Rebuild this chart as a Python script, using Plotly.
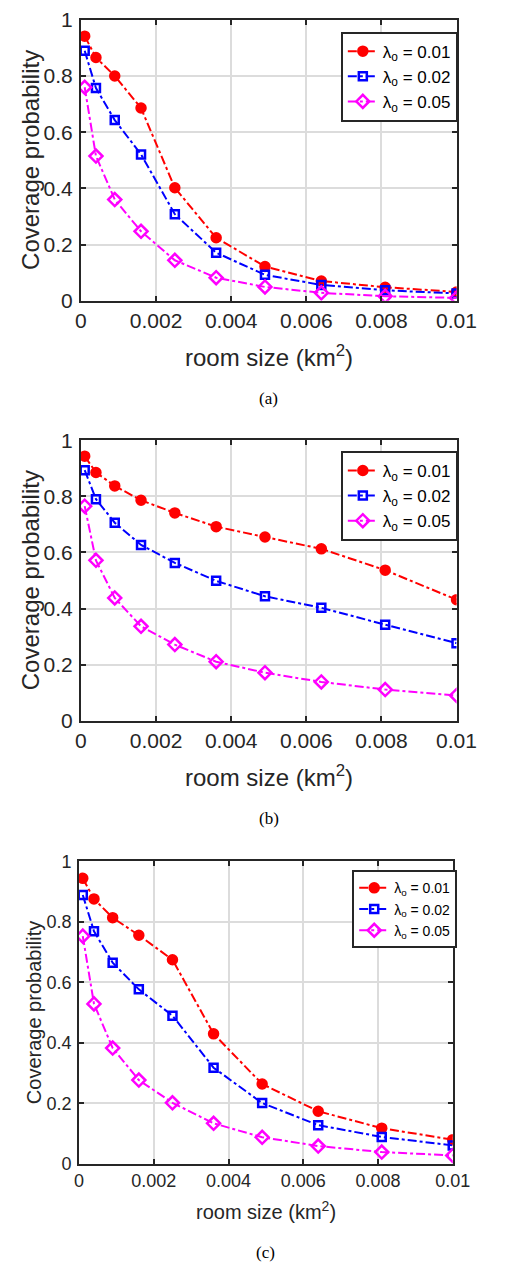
import plotly.graph_objects as go

x_vals = [0.0001, 0.0004, 0.0009, 0.0016, 0.0025, 0.0036, 0.0049, 0.0064, 0.0081, 0.01]
series_names = ["λ<sub>o</sub> = 0.01", "λ<sub>o</sub> = 0.02", "λ<sub>o</sub> = 0.05"]

a_red = [0.942, 0.866, 0.800, 0.686, 0.402, 0.224, 0.122, 0.070, 0.048, 0.031]
a_blue = [0.890, 0.757, 0.643, 0.521, 0.308, 0.171, 0.092, 0.056, 0.037, 0.026]
a_mag = [0.760, 0.515, 0.360, 0.247, 0.144, 0.082, 0.049, 0.028, 0.016, 0.010]

b_red = [0.943, 0.885, 0.837, 0.786, 0.741, 0.692, 0.655, 0.613, 0.537, 0.432]
b_blue = [0.893, 0.790, 0.706, 0.627, 0.563, 0.499, 0.444, 0.403, 0.343, 0.277]
b_mag = [0.765, 0.572, 0.438, 0.337, 0.272, 0.211, 0.172, 0.139, 0.112, 0.091]

c_red = [0.944, 0.876, 0.814, 0.756, 0.675, 0.430, 0.264, 0.174, 0.118, 0.080]
c_blue = [0.889, 0.769, 0.665, 0.577, 0.490, 0.318, 0.201, 0.128, 0.089, 0.061]
c_mag = [0.753, 0.529, 0.383, 0.277, 0.202, 0.134, 0.088, 0.059, 0.039, 0.028]

x_ticks = [0, 0.002, 0.004, 0.006, 0.008, 0.01]
x_ticktext = ["0", "0.002", "0.004", "0.006", "0.008", "0.01"]
y_ticks = [0, 0.2, 0.4, 0.6, 0.8, 1]
y_ticktext = ["0", "0.2", "0.4", "0.6", "0.8", "1"]
captions = ["(a)", "(b)", "(c)"]
x_title = "room size (km<sup>2</sup>)"
y_title = "Coverage probability"

W, H = 505, 1277
colors = ["#FF0000", "#0000FF", "#FF00FF"]
symbols = ["circle", "square-open", "diamond-open"]
msizes = [9, 8, 10]

panels = [
    dict(data=[a_red, a_blue, a_mag], x=(79, 475), y=(8, 294), tf=21, tt=24, lf=17,
         leg=(353, 20), ytx=26, xty=350, cap=394),
    dict(data=[b_red, b_blue, b_mag], x=(79, 475), y=(436, 722), tf=21, tt=24, lf=17,
         leg=(353, 447), ytx=26, xty=778, cap=821),
    dict(data=[c_red, c_blue, c_mag], x=(77, 471), y=(865, 1173), tf=18, tt=20, lf=14,
         leg=(365, 874), ytx=29, xty=1220, cap=1263),
]

fig = go.Figure()
FONT = "Liberation Sans, Arial, sans-serif"
axis_color = "#262626"
annotations = []
layout_axes = {}

for i, p in enumerate(panels):
    n = "" if i == 0 else str(i + 1)
    legname = "legend" + n
    for k in range(3):
        fig.add_trace(go.Scatter(
            x=x_vals, y=p["data"][k], mode="lines+markers", name=series_names[k],
            line=dict(color=colors[k], width=2, dash="dashdot"),
            marker=dict(symbol=symbols[k], size=msizes[k], color=colors[k],
                        line=dict(color=colors[k], width=2.5)),
            xaxis="x" + n, yaxis="y" + n, legend=legname,
        ))
    xd = [p["x"][0] / W, p["x"][1] / W]
    yd = [1 - p["y"][1] / H, 1 - p["y"][0] / H]
    common = dict(showline=True, linewidth=2, linecolor=axis_color, mirror="allticks",
                  ticks="inside", ticklen=5, tickwidth=1.5, tickcolor=axis_color,
                  showgrid=True, gridcolor="#dcdcdc", gridwidth=1.5, zeroline=False,
                  tickfont=dict(family=FONT, size=p["tf"], color=axis_color))
    layout_axes["xaxis" + n] = dict(domain=xd, range=[0, 0.01], tickvals=x_ticks,
                                     ticktext=x_ticktext, anchor="y" + n, **common)
    layout_axes["yaxis" + n] = dict(domain=yd, range=[0, 1], tickvals=y_ticks,
                                     ticktext=y_ticktext, anchor="x" + n,
                                     ticklabelstandoff=2, **common)
    layout_axes[legname] = dict(
        x=p["leg"][0] / W, y=1 - p["leg"][1] / H, xanchor="left", yanchor="top",
        bgcolor="white", bordercolor="#262626", borderwidth=2,
        font=dict(family=FONT, size=p["lf"], color="#000000"),
    )
    cx = (p["x"][0] + p["x"][1]) / 2 / W
    annotations.append(dict(text=x_title, x=cx, y=1 - p["xty"] / H, xref="paper", yref="paper",
                            showarrow=False, xanchor="center", yanchor="middle",
                            font=dict(family=FONT, size=p["tt"], color=axis_color)))
    annotations.append(dict(text=y_title, x=p["ytx"] / W, y=1 - (p["y"][0] + p["y"][1]) / 2 / H,
                            xref="paper", yref="paper", showarrow=False, textangle=-90,
                            xanchor="center", yanchor="middle",
                            font=dict(family=FONT, size=p["tt"], color=axis_color)))
    annotations.append(dict(text=captions[i], x=cx, y=1 - p["cap"] / H, xref="paper", yref="paper",
                            showarrow=False, xanchor="center", yanchor="middle",
                            font=dict(family="Liberation Serif, Times New Roman, serif", size=17,
                                      color="#000000")))

fig.update_layout(
    width=W, height=H, margin=dict(l=0, r=0, t=0, b=0),
    paper_bgcolor="white", plot_bgcolor="white",
    annotations=annotations, **layout_axes,
)

fig.write_html("out.html")
